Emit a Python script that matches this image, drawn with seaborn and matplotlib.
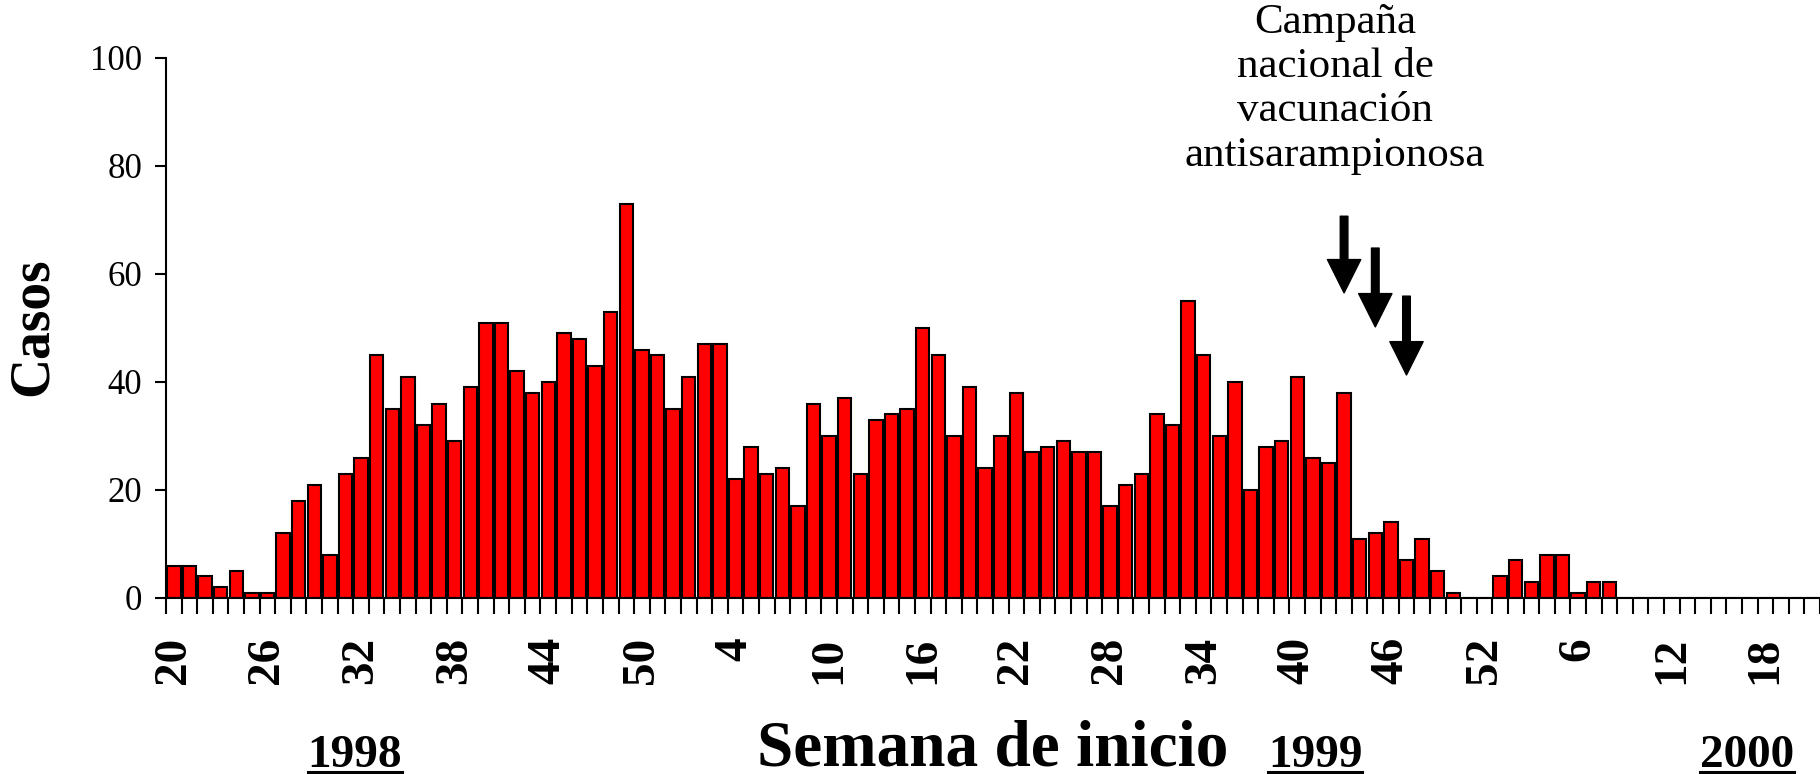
import numpy as np
import pandas as pd
import seaborn as sns
import matplotlib
matplotlib.use("Agg")
from matplotlib import pyplot as plt
from matplotlib.lines import Line2D

# weekly measles cases (semana de inicio)
weeks_1998 = list(range(20, 53))
cases_1998 = [6, 6, 4, 2, 5, 1, 1, 12, 18, 21, 8, 23, 26, 45, 35, 41, 32, 36, 29, 39,
              51, 51, 42, 38, 40, 49, 48, 43, 53, 73, 46, 45, 35]
weeks_1999 = list(range(1, 53))
cases_1999 = [41, 47, 47, 22, 28, 23, 24, 17, 36, 30, 37, 23, 33, 34, 35, 50, 45, 30, 39, 24,
              30, 38, 27, 28, 29, 27, 27, 17, 21, 23, 34, 32, 55, 45, 30, 40, 20, 28, 29, 41,
              26, 25, 38, 11, 12, 14, 7, 11, 5, 1, 0, 0]
weeks_2000 = list(range(1, 22))
cases_2000 = [4, 7, 3, 8, 8, 1, 3, 3, 0, 0, 0, 0, 0, 0, 0, 0, 0, 0, 0, 0, 0]

years = ["1998", "1999", "2000"]
campaign_text = "Campaña\nnacional de\nvacunación\nantisarampionosa"
# campaign arrows: (year, week, arrow top, arrow tip)
arrows = [(1999, 43, 70.7, 56.5), (1999, 45, 64.8, 50.2), (1999, 47, 55.9, 41.3)]

df = pd.DataFrame({
    "year": [1998] * len(weeks_1998) + [1999] * len(weeks_1999) + [2000] * len(weeks_2000),
    "week": weeks_1998 + weeks_1999 + weeks_2000,
    "casos": cases_1998 + cases_1999 + cases_2000,
})
df["key"] = df["year"].astype(str) + "-" + df["week"].astype(str)
n = len(df)

plt.rcParams["font.family"] = ["Liberation Serif", "DejaVu Serif"]
plt.rcParams["axes.linewidth"] = 1.5

fig = plt.figure(figsize=(18.2, 7.74), dpi=100)
ax = fig.add_axes([166 / 1820, 1 - 598 / 774, 1 - 166 / 1820, (598 - 58) / 774])

sns.barplot(data=df, x="key", y="casos", color="#ff0000", saturation=1,
            edgecolor="black", linewidth=1.5, width=0.86, ax=ax)

ax.set_xlim(-0.5, n - 0.5)
ax.set_ylim(0, 100)
ax.set_yticks(np.arange(0, 101, 20))
ax.tick_params(axis="y", labelsize=25, length=8, width=1.5, pad=9)

major = np.arange(0, n, 6)
ax.set_xticks(major)
ax.set_xticklabels(df["week"].iloc[major].astype(str), rotation=90,
                   fontsize=34, fontweight="bold")
ax.set_xticks(np.arange(-0.5, n, 1), minor=True)
ax.tick_params(axis="x", which="major", length=0, pad=28)
ax.tick_params(axis="x", which="minor", length=11.5, width=1.5, direction="out")
ax.set_xlabel("")
ax.set_ylabel("")
sns.despine(ax=ax)
ax.spines["bottom"].set_clip_on(False)

fig.text(33 / 1820, 1 - 327 / 774, "Casos", rotation=90, ha="center", va="center",
         fontsize=40, fontweight="bold")
fig.text(993 / 1820, 8 / 774, "Semana de inicio", ha="center", va="baseline",
         fontsize=47, fontweight="bold")

year_x = [355, 1315, 1747]
year_texts = []
for yr, xp in zip(years, year_x):
    year_texts.append(fig.text(xp / 1820, 7 / 774, yr, ha="center", va="baseline",
                               fontsize=34, fontweight="bold"))

fig.text(1335 / 1820, 1 - 3 / 774, campaign_text, ha="center", va="top",
         fontsize=31, linespacing=1.2, multialignment="center")

for yr, wk, top, tip in arrows:
    xi = df.index[(df["year"] == yr) & (df["week"] == wk)][0]
    ax.annotate("", xy=(xi, tip), xytext=(xi, top),
                arrowprops=dict(facecolor="black", edgecolor="black", width=5.5,
                                headwidth=24, headlength=24, shrink=0))

# underline the year labels
fig.canvas.draw()
renderer = fig.canvas.get_renderer()
W, H = fig.bbox.width, fig.bbox.height
for t in year_texts:
    bb = t.get_window_extent(renderer)
    yline = (7 - 4.5) / 774
    fig.add_artist(Line2D([bb.x0 / W, bb.x1 / W], [yline, yline], color="black",
                          linewidth=2.2, transform=fig.transFigure))

fig.savefig("out.png", dpi=100)
